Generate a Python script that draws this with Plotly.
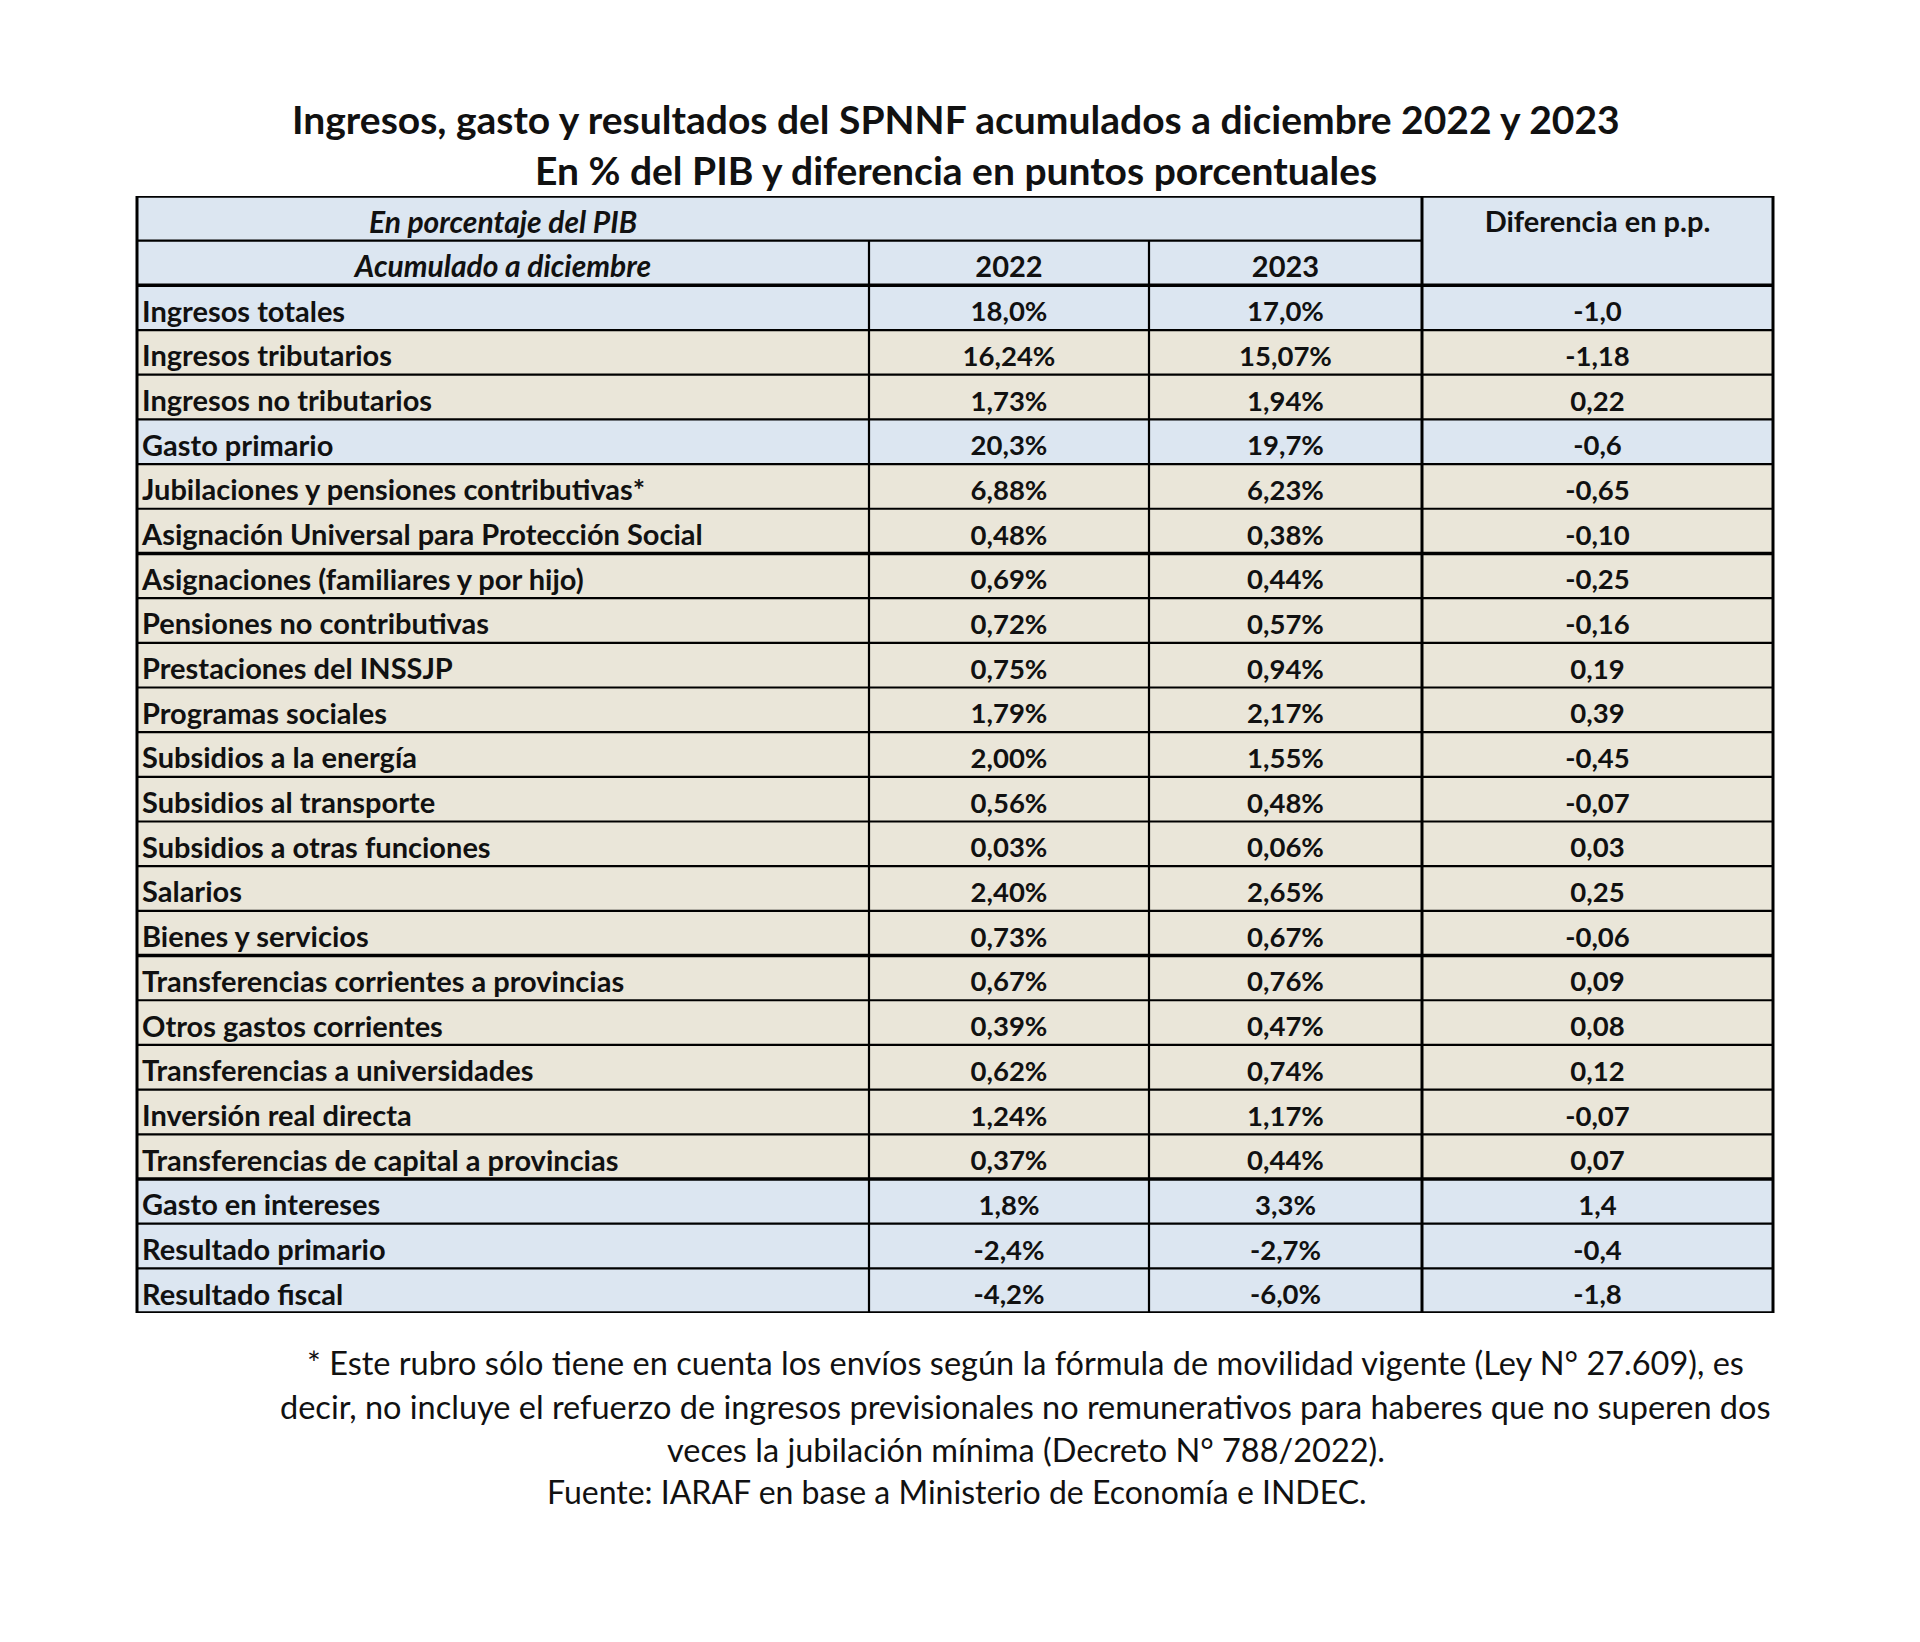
import plotly.graph_objects as go

# datos de la tabla (en % del PIB)
conceptos = [
    "Ingresos totales", "Ingresos tributarios", "Ingresos no tributarios", "Gasto primario",
    "Jubilaciones y pensiones contributivas*", "Asignación Universal para Protección Social",
    "Asignaciones (familiares y por hijo)", "Pensiones no contributivas", "Prestaciones del INSSJP",
    "Programas sociales", "Subsidios a la energía", "Subsidios al transporte",
    "Subsidios a otras funciones", "Salarios", "Bienes y servicios",
    "Transferencias corrientes a provincias", "Otros gastos corrientes",
    "Transferencias a universidades", "Inversión real directa",
    "Transferencias de capital a provincias", "Gasto en intereses",
    "Resultado primario", "Resultado fiscal",
]
v2022 = [18.0, 16.24, 1.73, 20.3, 6.88, 0.48, 0.69, 0.72, 0.75, 1.79, 2.00, 0.56,
         0.03, 2.40, 0.73, 0.67, 0.39, 0.62, 1.24, 0.37, 1.8, -2.4, -4.2]
v2023 = [17.0, 15.07, 1.94, 19.7, 6.23, 0.38, 0.44, 0.57, 0.94, 2.17, 1.55, 0.48,
         0.06, 2.65, 0.67, 0.76, 0.47, 0.74, 1.17, 0.44, 3.3, -2.7, -6.0]
diferencia = [-1.0, -1.18, 0.22, -0.6, -0.65, -0.10, -0.25, -0.16, 0.19, 0.39, -0.45, -0.07,
              0.03, 0.25, -0.06, 0.09, 0.08, 0.12, -0.07, 0.07, 1.4, -0.4, -1.8]
decimales = [1, 2, 2, 1, 2, 2, 2, 2, 2, 2, 2, 2, 2, 2, 2, 2, 2, 2, 2, 2, 1, 1, 1]
anios = ["2022", "2023"]

titulo = ["Ingresos, gasto y resultados del SPNNF acumulados a diciembre 2022 y 2023",
          "En % del PIB y diferencia en puntos porcentuales"]
nota = [
    "* Este rubro sólo tiene en cuenta los envíos según la fórmula de movilidad vigente (Ley N° 27.609), es",
    "decir, no incluye el refuerzo de ingresos previsionales no remunerativos para haberes que no superen dos",
    "veces la jubilación mínima (Decreto N° 788/2022).",
]
fuente = "Fuente: IARAF en base a Ministerio de Economía e INDEC."

# estilo / geometría (px; el body de la página añade 8 px de margen)
W, H = 1920, 1642
M = 8
FONT = "Lato"
AZUL = "#DCE6F1"
BEIGE = "#EAE6D9"
filas_azules = {0, 3, 20, 21, 22}
cols = [x - M for x in [137, 869, 1149, 1422, 1773]]
t_top, t_bot = 196 - M, 1313 - M
n_filas = len(conceptos) + 2
gruesas = {0, 2, 8, 17, 22, n_filas}


def fmt(v, d, pct):
    s = f"{v:.{d}f}".replace(".", ",")
    return s + ("%" if pct else "")


fig = go.Figure()
shapes = []

# fondos
shapes.append(dict(type="rect", xref="x", yref="y", x0=cols[0], x1=cols[4], y0=0, y1=2,
                   fillcolor=AZUL, line_width=0, layer="below"))
for i in range(len(conceptos)):
    shapes.append(dict(type="rect", xref="x", yref="y", x0=cols[0], x1=cols[4],
                       y0=i + 2, y1=i + 3, line_width=0, layer="below",
                       fillcolor=AZUL if i in filas_azules else BEIGE))

# bordes horizontales
for r in range(n_filas + 1):
    x1 = cols[3] if r == 1 else cols[4]
    shapes.append(dict(type="line", xref="x", yref="y", x0=cols[0], x1=x1, y0=r, y1=r,
                       line=dict(color="black", width=3.5 if r in gruesas else 2.2)))
# bordes verticales
for j, x in enumerate(cols):
    y0 = 1 if j in (1, 2) else 0
    shapes.append(dict(type="line", xref="x", yref="y", x0=x, x1=x, y0=y0, y1=n_filas,
                       line=dict(color="black", width=3 if j in (0, 3, 4) else 2.2)))

off = 0.65
cx = [(cols[k] + cols[k + 1]) / 2 for k in range(4)]

# encabezados
fig.add_trace(go.Scatter(
    x=[cx[0], cx[0]], y=[0 + off, 1 + off], mode="text",
    text=["En porcentaje del PIB", "Acumulado a diciembre"],
    textfont=dict(family=FONT, size=30, color="#111", weight="bold", style="italic"),
    hoverinfo="skip", showlegend=False))
fig.add_trace(go.Scatter(
    x=[cx[1], cx[2], cx[3]], y=[1 + off, 1 + off, 0 + off], mode="text",
    text=anios + ["Diferencia en p.p."],
    textfont=dict(family=FONT, size=29, color="#111", weight="bold"),
    hoverinfo="skip", showlegend=False))

ys = [i + 2 + off for i in range(len(conceptos))]
fig.add_trace(go.Scatter(
    x=[cols[0] + 5] * len(conceptos), y=ys, mode="text", text=conceptos,
    textposition="middle right",
    textfont=dict(family=FONT, size=29, color="#111", weight="bold"),
    hoverinfo="skip", showlegend=False))
for k, (serie, pct) in enumerate([(v2022, True), (v2023, True), (diferencia, False)]):
    fig.add_trace(go.Scatter(
        x=[cx[k + 1]] * len(serie), y=ys, mode="text",
        text=[fmt(v, d, pct) for v, d in zip(serie, decimales)],
        textfont=dict(family=FONT, size=27.5, color="#111", weight="bold"),
        hoverinfo="skip", showlegend=False))

# títulos y nota
ann = []
for t, y in zip(titulo, [119, 170]):
    ann.append(dict(text=f"<b>{t}</b>", x=(956 - M) / W, y=1 - (y - M) / H,
                    xref="paper", yref="paper", showarrow=False,
                    xanchor="center", yanchor="middle",
                    font=dict(family=FONT, size=39, color="#111")))
for t, y in zip(nota, [1362, 1406, 1449]):
    ann.append(dict(text=t, x=(1026 - M) / W, y=1 - (y - M) / H,
                    xref="paper", yref="paper", showarrow=False,
                    xanchor="center", yanchor="middle",
                    font=dict(family=FONT, size=32.5, color="#111")))
ann.append(dict(text=fuente, x=(957 - M) / W, y=1 - (1491 - M) / H,
                xref="paper", yref="paper", showarrow=False,
                xanchor="center", yanchor="middle",
                font=dict(family=FONT, size=32, color="#111")))

fig.update_layout(
    width=W, height=H, margin=dict(l=0, r=0, t=0, b=0),
    paper_bgcolor="white", plot_bgcolor="white",
    shapes=shapes, annotations=ann,
    xaxis=dict(range=[0, W], visible=False, fixedrange=True),
    yaxis=dict(range=[n_filas, 0], domain=[1 - t_bot / H, 1 - t_top / H],
               visible=False, fixedrange=True),
)
fig.write_html("out.html")
